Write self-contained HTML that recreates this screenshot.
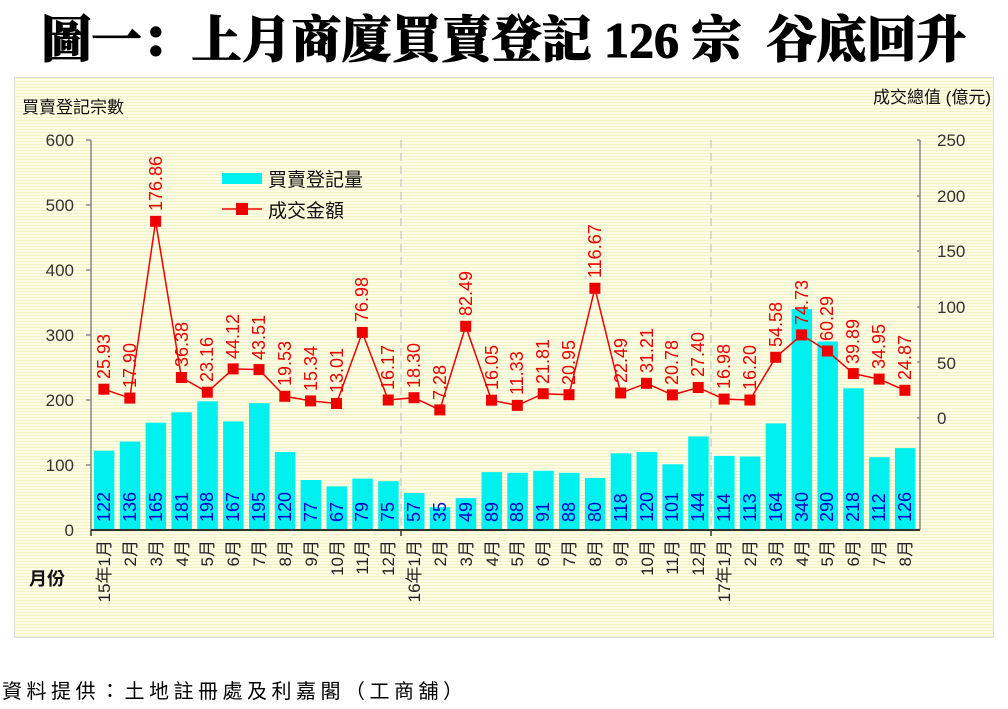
<!DOCTYPE html>
<html><head><meta charset="utf-8"><style>
html,body{margin:0;padding:0;background:#fff;}
body{width:1008px;height:709px;overflow:hidden;position:relative;font-family:"Liberation Sans","Noto Sans CJK TC",sans-serif;}
.title{position:absolute;left:0;top:0px;width:1008px;text-align:center;font:900 50px "Liberation Serif","Noto Serif CJK SC",serif;color:#000;white-space:nowrap;-webkit-text-stroke:1px #000;}
.foot{position:absolute;left:2px;top:675px;font-size:20px;letter-spacing:4.5px;color:#000;font-family:"Liberation Sans","Noto Sans CJK TC",sans-serif;}
svg{position:absolute;left:0;top:0;}
.r{fill:#e00;font-size:18px;}
.b{fill:#00c;font-size:18px;}
.x{fill:#222;font-size:17px;}
.t{fill:#333;font-size:17px;}
</style></head><body>
<div class="title">圖一：上月商廈買賣登記 126 宗&nbsp; 谷底回升</div>
<svg width="1008" height="709" xmlns="http://www.w3.org/2000/svg" font-family="Liberation Sans, Noto Sans CJK TC, sans-serif">
<defs><pattern id="st" width="4" height="3" patternUnits="userSpaceOnUse"><rect width="4" height="3" fill="#fdfde6"/><rect width="4" height="1" fill="#f3f3c8"/></pattern></defs>
<rect x="14.5" y="77.5" width="979" height="560" fill="url(#st)" stroke="#ddd"/>
<text x="22" y="113" font-size="17" fill="#111">買賣登記宗數</text>
<text x="991" y="103" font-size="17" fill="#111" text-anchor="end">成交總值 (億元)</text>
<g class="t" text-anchor="end">
<text x="74" y="146">600</text><text x="74" y="211">500</text><text x="74" y="276">400</text><text x="74" y="341">300</text><text x="74" y="406">200</text><text x="74" y="471">100</text><text x="74" y="536">0</text>
</g>
<g class="t">
<text x="937" y="146">250</text><text x="937" y="202">200</text><text x="937" y="257">150</text><text x="937" y="313">100</text><text x="937" y="369">50</text><text x="937" y="424">0</text>
</g>
<g stroke="#888" stroke-width="1.5">
<line x1="91" y1="140" x2="91" y2="530"/>
<line x1="920" y1="140" x2="920" y2="530"/>
<line x1="86" y1="140" x2="91" y2="140"/><line x1="86" y1="205" x2="91" y2="205"/><line x1="86" y1="270" x2="91" y2="270"/><line x1="86" y1="335" x2="91" y2="335"/><line x1="86" y1="400" x2="91" y2="400"/><line x1="86" y1="465" x2="91" y2="465"/>
<line x1="917" y1="140" x2="920" y2="140"/><line x1="917" y1="196" x2="920" y2="196"/><line x1="917" y1="251" x2="920" y2="251"/><line x1="917" y1="307" x2="920" y2="307"/><line x1="917" y1="362" x2="920" y2="362"/><line x1="917" y1="418" x2="920" y2="418"/>
</g>
<g stroke="#bbb" stroke-dasharray="8,5"><line x1="401" y1="140" x2="401" y2="530"/><line x1="711" y1="140" x2="711" y2="530"/></g>
<g fill="#00f0f0">
<rect x="93.9" y="450.7" width="20.5" height="79.3"/><rect x="119.8" y="441.6" width="20.5" height="88.4"/><rect x="145.6" y="422.7" width="20.5" height="107.3"/><rect x="171.4" y="412.3" width="20.5" height="117.7"/><rect x="197.3" y="401.3" width="20.5" height="128.7"/><rect x="223.1" y="421.4" width="20.5" height="108.6"/><rect x="249" y="403.2" width="20.5" height="126.8"/><rect x="274.8" y="452" width="20.5" height="78"/><rect x="300.6" y="480" width="20.5" height="50"/><rect x="326.5" y="486.4" width="20.5" height="43.6"/><rect x="352.3" y="478.6" width="20.5" height="51.4"/><rect x="378.2" y="481.2" width="20.5" height="48.8"/>
<rect x="404" y="493" width="20.5" height="37"/><rect x="429.8" y="507.2" width="20.5" height="22.8"/><rect x="455.7" y="498.1" width="20.5" height="31.9"/><rect x="481.5" y="472.1" width="20.5" height="57.9"/><rect x="507.3" y="472.8" width="20.5" height="57.2"/><rect x="533.2" y="470.8" width="20.5" height="59.2"/><rect x="559" y="472.8" width="20.5" height="57.2"/><rect x="584.9" y="478" width="20.5" height="52"/><rect x="610.7" y="453.3" width="20.5" height="76.7"/><rect x="636.5" y="452" width="20.5" height="78"/><rect x="662.4" y="464.3" width="20.5" height="65.7"/><rect x="688.2" y="436.4" width="20.5" height="93.6"/>
<rect x="714.1" y="455.9" width="20.5" height="74.1"/><rect x="739.9" y="456.5" width="20.5" height="73.5"/><rect x="765.7" y="423.4" width="20.5" height="106.6"/><rect x="791.6" y="309" width="20.5" height="221"/><rect x="817.4" y="341.5" width="20.5" height="188.5"/><rect x="843.3" y="388.3" width="20.5" height="141.7"/><rect x="869.1" y="457.2" width="20.5" height="72.8"/><rect x="894.9" y="448.1" width="20.5" height="81.9"/>
</g>
<line x1="91" y1="530" x2="920" y2="530" stroke="#333" stroke-width="2"/>
<g stroke="#333" stroke-width="1.5"><line x1="91" y1="530" x2="91" y2="536"/><line x1="401" y1="530" x2="401" y2="536"/><line x1="711" y1="530" x2="711" y2="536"/></g>
<g class="b">
<text transform="translate(110,522) rotate(-90)">122</text><text transform="translate(136,522) rotate(-90)">136</text><text transform="translate(162,522) rotate(-90)">165</text><text transform="translate(188,522) rotate(-90)">181</text><text transform="translate(213,522) rotate(-90)">198</text><text transform="translate(239,522) rotate(-90)">167</text><text transform="translate(265,522) rotate(-90)">195</text><text transform="translate(291,522) rotate(-90)">120</text><text transform="translate(317,522) rotate(-90)">77</text><text transform="translate(343,522) rotate(-90)">67</text><text transform="translate(368,522) rotate(-90)">79</text><text transform="translate(394,522) rotate(-90)">75</text>
<text transform="translate(420,522) rotate(-90)">57</text><text transform="translate(446,522) rotate(-90)">35</text><text transform="translate(472,522) rotate(-90)">49</text><text transform="translate(498,522) rotate(-90)">89</text><text transform="translate(523,522) rotate(-90)">88</text><text transform="translate(549,522) rotate(-90)">91</text><text transform="translate(575,522) rotate(-90)">88</text><text transform="translate(601,522) rotate(-90)">80</text><text transform="translate(627,522) rotate(-90)">118</text><text transform="translate(653,522) rotate(-90)">120</text><text transform="translate(678,522) rotate(-90)">101</text><text transform="translate(704,522) rotate(-90)">144</text>
<text transform="translate(730,522) rotate(-90)">114</text><text transform="translate(756,522) rotate(-90)">113</text><text transform="translate(782,522) rotate(-90)">164</text><text transform="translate(808,522) rotate(-90)">340</text><text transform="translate(833,522) rotate(-90)">290</text><text transform="translate(859,522) rotate(-90)">218</text><text transform="translate(885,522) rotate(-90)">112</text><text transform="translate(911,522) rotate(-90)">126</text>
</g>
<polyline fill="none" stroke="#e00" stroke-width="1.5" points="103.9,389.2 129.8,398.1 155.6,221.3 181.4,377.5 207.3,392.2 233.1,368.9 259,369.6 284.8,396.3 310.6,400.9 336.5,403.5 362.3,332.4 388.2,400 414,397.7 439.8,409.9 465.7,326.3 491.5,400.2 517.3,405.4 543.2,393.7 569,394.7 594.9,288.3 620.7,393 646.5,383.3 672.4,394.9 698.2,387.5 724.1,399.1 749.9,400 775.7,357.3 801.6,334.9 827.4,351 853.3,373.6 879.1,379.1 904.9,390.3"/>
<g fill="#e00">
<rect x="98.4" y="383.7" width="11" height="11"/><rect x="124.3" y="392.6" width="11" height="11"/><rect x="150.1" y="215.8" width="11" height="11"/><rect x="175.9" y="372" width="11" height="11"/><rect x="201.8" y="386.7" width="11" height="11"/><rect x="227.6" y="363.4" width="11" height="11"/><rect x="253.5" y="364.1" width="11" height="11"/><rect x="279.3" y="390.8" width="11" height="11"/><rect x="305.1" y="395.4" width="11" height="11"/><rect x="331" y="398" width="11" height="11"/><rect x="356.8" y="326.9" width="11" height="11"/><rect x="382.7" y="394.5" width="11" height="11"/>
<rect x="408.5" y="392.2" width="11" height="11"/><rect x="434.3" y="404.4" width="11" height="11"/><rect x="460.2" y="320.8" width="11" height="11"/><rect x="486" y="394.7" width="11" height="11"/><rect x="511.8" y="399.9" width="11" height="11"/><rect x="537.7" y="388.2" width="11" height="11"/><rect x="563.5" y="389.2" width="11" height="11"/><rect x="589.4" y="282.8" width="11" height="11"/><rect x="615.2" y="387.5" width="11" height="11"/><rect x="641" y="377.8" width="11" height="11"/><rect x="666.9" y="389.4" width="11" height="11"/><rect x="692.7" y="382" width="11" height="11"/>
<rect x="718.6" y="393.6" width="11" height="11"/><rect x="744.4" y="394.5" width="11" height="11"/><rect x="770.2" y="351.8" width="11" height="11"/><rect x="796.1" y="329.4" width="11" height="11"/><rect x="821.9" y="345.5" width="11" height="11"/><rect x="847.8" y="368.1" width="11" height="11"/><rect x="873.6" y="373.6" width="11" height="11"/><rect x="899.4" y="384.8" width="11" height="11"/>
</g>
<g class="r">
<text transform="translate(110,379) rotate(-90)">25.93</text><text transform="translate(136,388) rotate(-90)">17.90</text><text transform="translate(162,211) rotate(-90)">176.86</text><text transform="translate(188,367) rotate(-90)">36.38</text><text transform="translate(213,382) rotate(-90)">23.16</text><text transform="translate(239,359) rotate(-90)">44.12</text><text transform="translate(265,360) rotate(-90)">43.51</text><text transform="translate(291,386) rotate(-90)">19.53</text><text transform="translate(317,391) rotate(-90)">15.34</text><text transform="translate(343,393) rotate(-90)">13.01</text><text transform="translate(368,322) rotate(-90)">76.98</text><text transform="translate(394,390) rotate(-90)">16.17</text>
<text transform="translate(420,388) rotate(-90)">18.30</text><text transform="translate(446,400) rotate(-90)">7.28</text><text transform="translate(472,316) rotate(-90)">82.49</text><text transform="translate(498,390) rotate(-90)">16.05</text><text transform="translate(523,395) rotate(-90)">11.33</text><text transform="translate(549,384) rotate(-90)">21.81</text><text transform="translate(575,385) rotate(-90)">20.95</text><text transform="translate(601,278) rotate(-90)">116.67</text><text transform="translate(627,383) rotate(-90)">22.49</text><text transform="translate(653,373) rotate(-90)">31.21</text><text transform="translate(678,385) rotate(-90)">20.78</text><text transform="translate(704,377) rotate(-90)">27.40</text>
<text transform="translate(730,389) rotate(-90)">16.98</text><text transform="translate(756,390) rotate(-90)">16.20</text><text transform="translate(782,347) rotate(-90)">54.58</text><text transform="translate(808,325) rotate(-90)">74.73</text><text transform="translate(833,341) rotate(-90)">60.29</text><text transform="translate(859,364) rotate(-90)">39.89</text><text transform="translate(885,369) rotate(-90)">34.95</text><text transform="translate(911,380) rotate(-90)">24.87</text>
</g>
<g class="x" text-anchor="end">
<text transform="translate(110,540) rotate(-90)">15年1月</text><text transform="translate(136,540) rotate(-90)">2月</text><text transform="translate(162,540) rotate(-90)">3月</text><text transform="translate(188,540) rotate(-90)">4月</text><text transform="translate(213,540) rotate(-90)">5月</text><text transform="translate(239,540) rotate(-90)">6月</text><text transform="translate(265,540) rotate(-90)">7月</text><text transform="translate(291,540) rotate(-90)">8月</text><text transform="translate(317,540) rotate(-90)">9月</text><text transform="translate(343,540) rotate(-90)">10月</text><text transform="translate(368,540) rotate(-90)">11月</text><text transform="translate(394,540) rotate(-90)">12月</text>
<text transform="translate(420,540) rotate(-90)">16年1月</text><text transform="translate(446,540) rotate(-90)">2月</text><text transform="translate(472,540) rotate(-90)">3月</text><text transform="translate(498,540) rotate(-90)">4月</text><text transform="translate(523,540) rotate(-90)">5月</text><text transform="translate(549,540) rotate(-90)">6月</text><text transform="translate(575,540) rotate(-90)">7月</text><text transform="translate(601,540) rotate(-90)">8月</text><text transform="translate(627,540) rotate(-90)">9月</text><text transform="translate(653,540) rotate(-90)">10月</text><text transform="translate(678,540) rotate(-90)">11月</text><text transform="translate(704,540) rotate(-90)">12月</text>
<text transform="translate(730,540) rotate(-90)">17年1月</text><text transform="translate(756,540) rotate(-90)">2月</text><text transform="translate(782,540) rotate(-90)">3月</text><text transform="translate(808,540) rotate(-90)">4月</text><text transform="translate(833,540) rotate(-90)">5月</text><text transform="translate(859,540) rotate(-90)">6月</text><text transform="translate(885,540) rotate(-90)">7月</text><text transform="translate(911,540) rotate(-90)">8月</text>
</g>
<text x="29" y="585" font-size="18" font-weight="bold" fill="#111">月份</text>
<rect x="222" y="173" width="40" height="11" fill="#00f0f0"/>
<text x="268" y="186" font-size="19" fill="#111">買賣登記量</text>
<line x1="222" y1="209" x2="262" y2="209" stroke="#e00" stroke-width="1.5"/>
<rect x="236" y="203" width="12" height="12" fill="#e00"/>
<text x="268" y="217" font-size="19" fill="#111">成交金額</text>
</svg>
<div class="foot">資料提供：土地註冊處及利嘉閣（工商舖）</div>
</body></html>
